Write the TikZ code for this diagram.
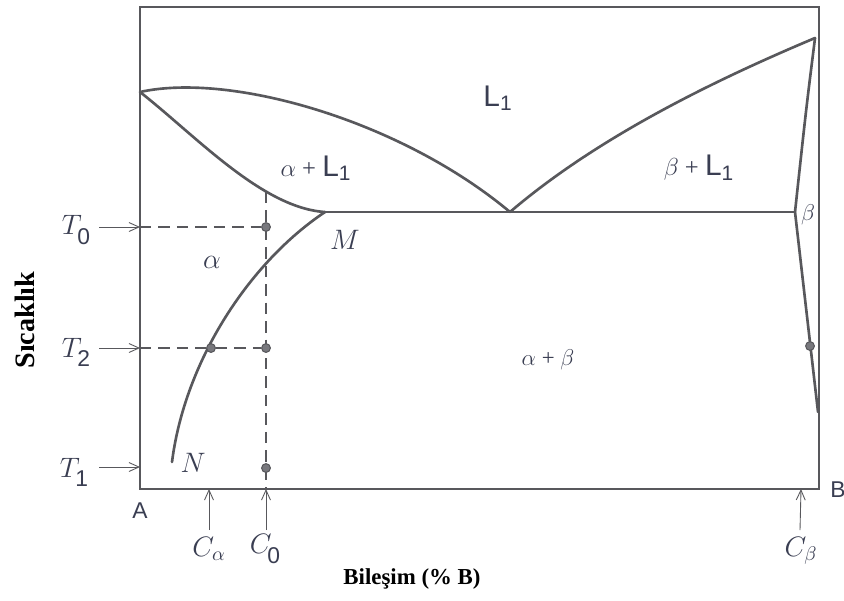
\documentclass[tikz,border=0pt]{standalone}
\usepackage{fix-cm}
\usepackage{fontspec}
\setmainfont{Liberation Serif}
\setsansfont{Liberation Sans}
\usetikzlibrary{arrows.meta}
\definecolor{PDGray}{RGB}{88,88,92}
\definecolor{PDDot}{RGB}{120,120,125}
\definecolor{PDText}{RGB}{58,62,82}
\newcommand{\phsub}[1]{\kern-2.5pt\raisebox{-0.7ex}{\fontsize{13}{13}\sffamily #1}}

\begin{document}
\begin{tikzpicture}[x=0.02cm,y=-0.02cm,
  frame/.style={draw=PDGray,line width=0.8pt},
  phase/.style={draw=PDGray,line width=1.5pt,line cap=round},
  guide/.style={draw=PDGray,dash pattern=on 6.5pt off 4pt,line width=0.6pt},
  arrow/.style={-{Straight Barb[length=2mm,width=1.8mm]},draw=PDGray,line width=0.5pt},
  dot/.style={circle,draw=PDGray,fill=PDDot,inner sep=0pt,minimum size=5pt,line width=0.6pt},
  lbl/.style={text=PDText,font=\fontsize{16}{18}\selectfont},
  small/.style={text=PDText,font=\fontsize{13}{15}\selectfont},
  region/.style={text=PDText,font=\fontsize{17}{19}\sffamily},
  axislbl/.style={text=black,font=\fontsize{13}{15}\bfseries}
]
\fill[white] (0,0) rectangle (844,600);
\useasboundingbox (0,0) rectangle (844,600);

% frame and composition axis
\coordinate (A0) at (140,489);
\coordinate (A1) at (140,7);
\coordinate (B1) at (819,7);
\coordinate (B0) at (819,489);
\draw[frame] (A0) -- (A1) -- (B1) -- (B0) -- cycle;

% phase boundaries
\coordinate (meltA) at (140,92);
\coordinate (meltB) at (815,38);
\coordinate (eut) at (510,212);
\coordinate (M) at (325,212);
\coordinate (Nend) at (172,462);
\coordinate (bEut) at (795,212);
\coordinate (bEnd) at (818,412);
\draw[phase] (meltA) .. controls (230,72) and (400,120) .. (eut);
\draw[phase] (meltA) .. controls (195,135) and (262,208) .. (M);
\draw[phase] (M) -- (bEut);
\draw[phase] (eut) .. controls (600,135) and (720,78) .. (meltB);
\draw[phase] (meltB) .. controls (806,110) .. (bEut);
\draw[phase] (bEut) -- (bEnd);
\draw[phase] (M) .. controls (250,262) and (185,360) .. (Nend);

% alloy C0 and tie lines
\coordinate (c0top) at (266,192);
\coordinate (c0bot) at (266,489);
\coordinate (yT0) at (140,227);
\coordinate (yT2) at (140,348);
\coordinate (yT1) at (140,467);
\draw[guide] (c0top) -- (c0bot);
\node[dot] (d0) at (266,227) {};
\node[dot] (d2) at (266,348) {};
\node[dot] (d1) at (266,468) {};
\node[dot] (da) at (211,348) {};
\node[dot] (db) at (810,346) {};
\draw[guide] (yT0) -- (d0);
\draw[guide] (yT2) -- (da) -- (d2);

% temperature marks
\node[lbl] (t0) at (76,230) {$T$\phsub{0}};
\node[lbl] (t2) at (76,352) {$T$\phsub{2}};
\node[lbl] (t1) at (74,472) {$T$\phsub{1}};
\draw[arrow] (99,227) -- (yT0);
\draw[arrow] (99,348) -- (yT2);
\draw[arrow] (99,467) -- (yT1);

% composition marks
\node[lbl] (ca) at (209,549) {$C_{\alpha}$};
\node[lbl] (c0) at (265,549) {$C$\phsub{0}};
\node[lbl] (cb) at (801,551) {$C_{\beta}$};
\draw[arrow] (209,530) -- (ca.north |- A0);
\draw[arrow] (266,530) -- (c0bot);
\draw[arrow] (800,530) -- (cb.north |- A0);

% regions and points
\node[region] (liq) at (498,98) {L\textsubscript{1}};
\node[region] (aL) at (316,168) {\normalfont\fontsize{14}{16}\selectfont$\alpha$ + \sffamily\fontsize{17}{19}\selectfont L\textsubscript{1}};
\node[region] (bL) at (699,168) {\normalfont\fontsize{14}{16}\selectfont$\beta$ + \sffamily\fontsize{17}{19}\selectfont L\textsubscript{1}};
\node[lbl] (alpha) at (212,262) {$\alpha$};
\node[small] (beta) at (808,215) {$\beta$};
\node[small] (ab) at (548,360) {$\alpha$ + $\beta$};
\node[lbl] (mlbl) at (345,240) {$M$};
\node[lbl] (nlbl) at (193,463) {$N$};
\node[text=PDText,font=\fontsize{13}{15}\sffamily] (alab) at (140,511) {A};
\node[text=PDText,font=\fontsize{13}{15}\sffamily] (blab) at (838,490) {B};

% axis titles
\node[axislbl,rotate=90] (ytitle) at (25,320) {\fontsize{16}{18}\selectfont Sıcaklık};
\node[axislbl] (xtitle) at (412,579) {Bileşim (\% B)};
\end{tikzpicture}
\end{document}
